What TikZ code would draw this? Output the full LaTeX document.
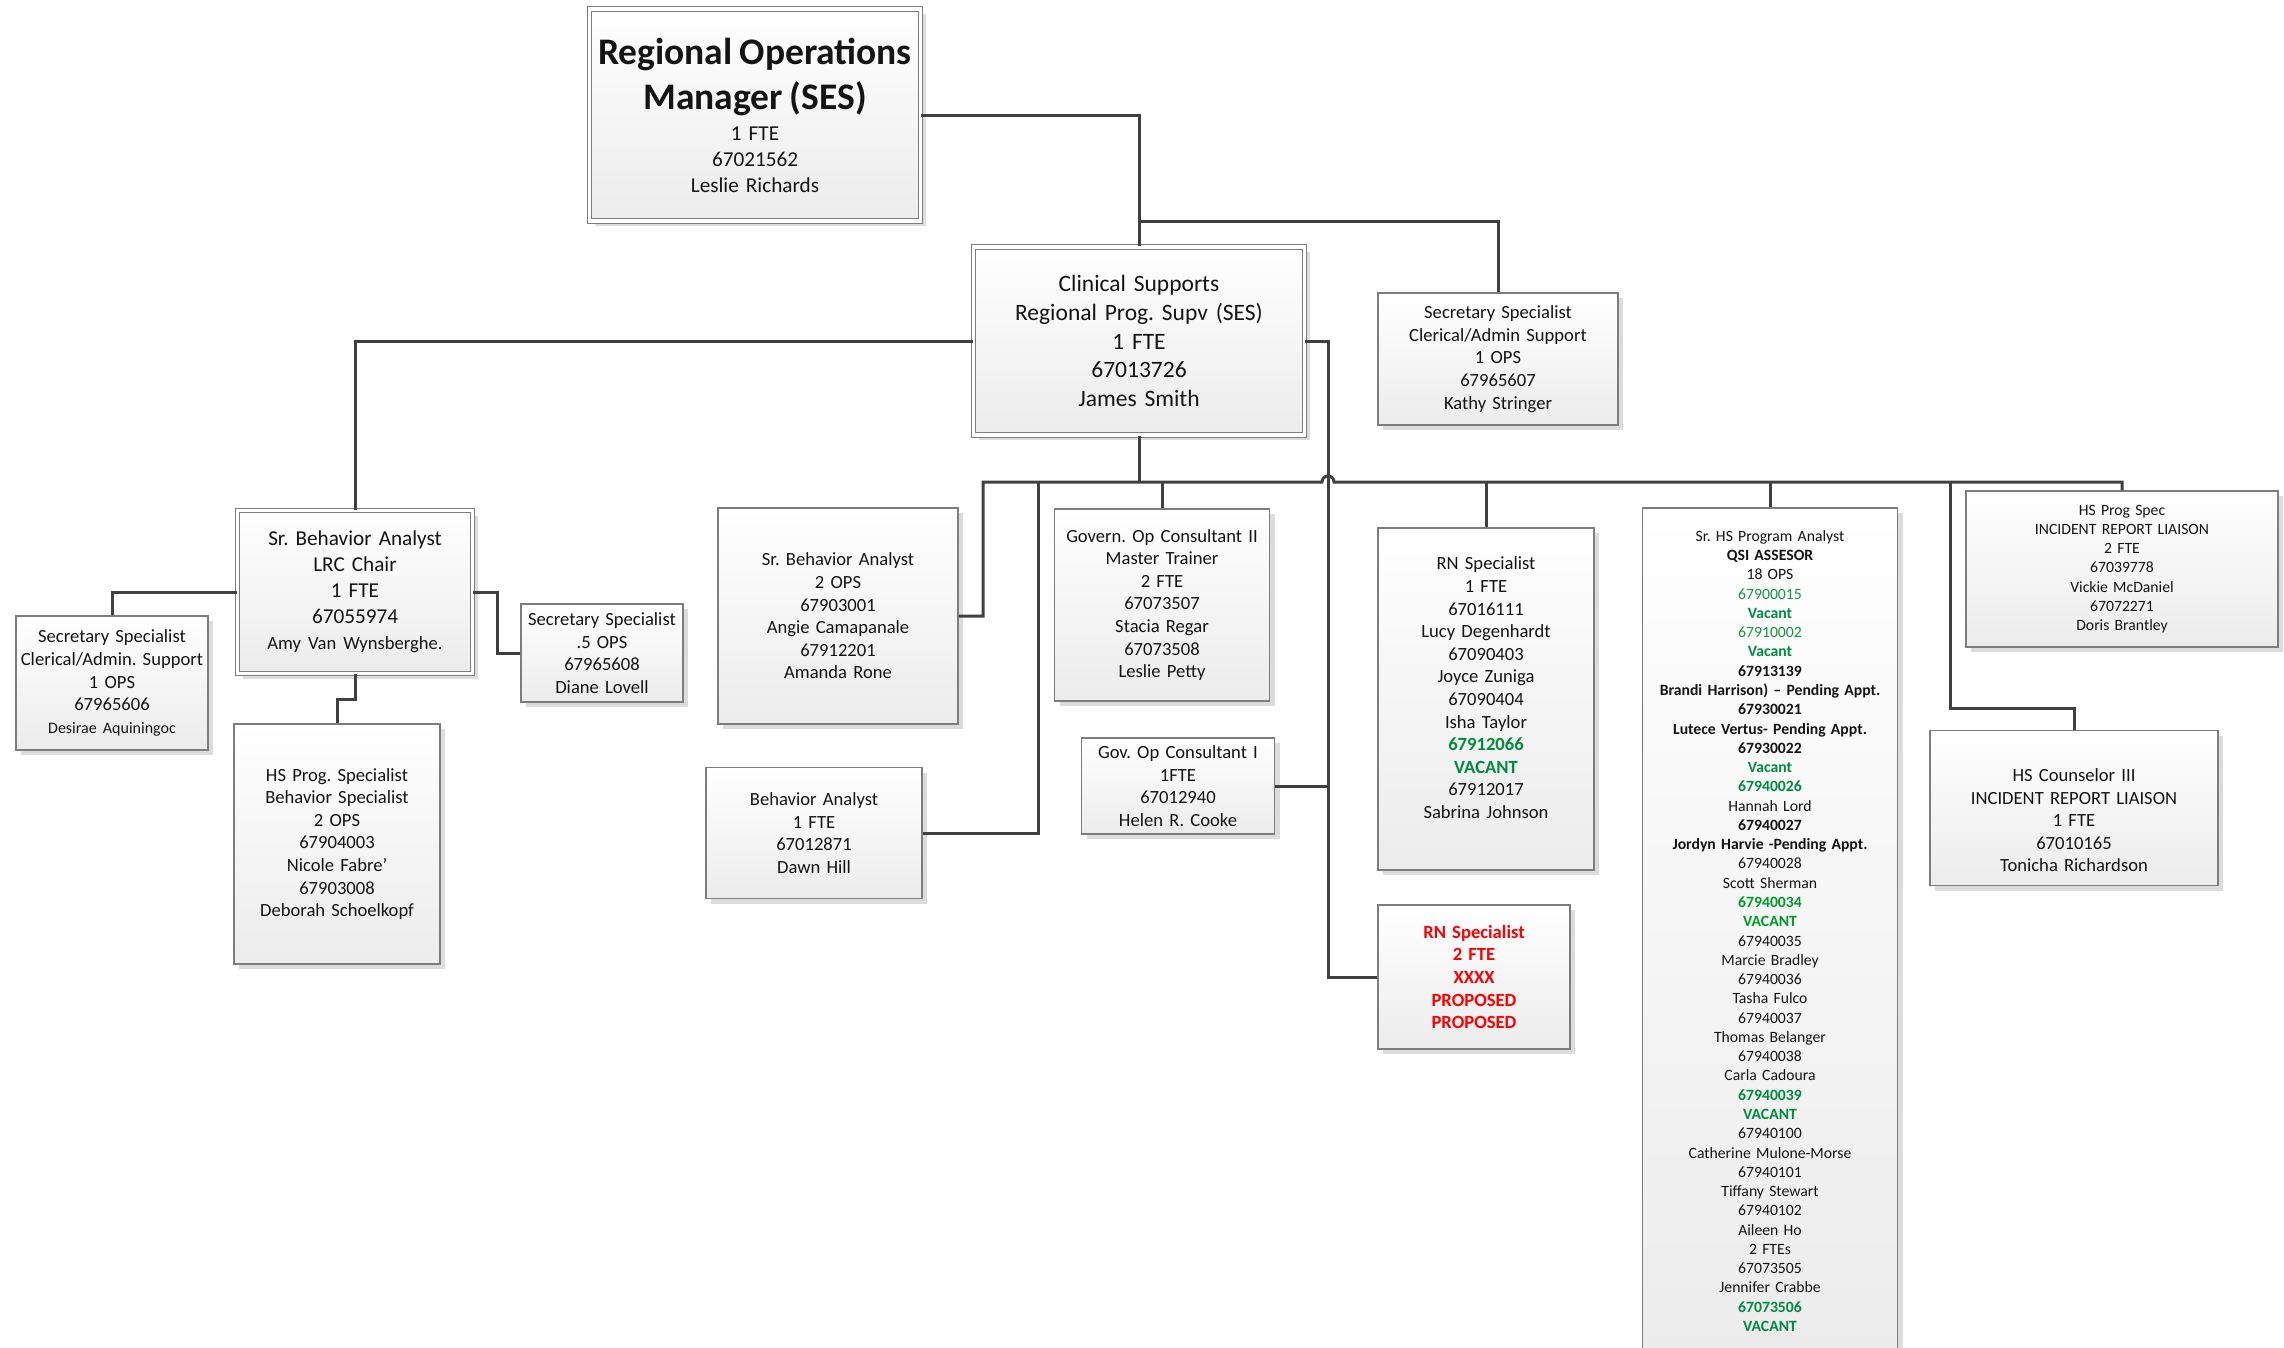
\documentclass[tikz,border=0pt]{standalone}
\usepackage{fontspec}
\setmainfont{Carlito}
\usetikzlibrary{shadows}
\frenchspacing

\definecolor{cBoxLine}{RGB}{125,125,125}
\definecolor{cBoxBot}{RGB}{236,236,236}
\definecolor{cShadow}{RGB}{220,220,220}
\definecolor{cConn}{RGB}{64,64,64}
\definecolor{cVac}{RGB}{0,140,62}
\definecolor{cVacB}{RGB}{0,155,40}
\definecolor{cVacL}{RGB}{20,150,60}
\definecolor{cRed}{RGB}{255,0,0}
\definecolor{cInk}{RGB}{20,20,20}

% type sizes (1pt = 1px of the sheet)
\newcommand\fN{\normalfont\fontsize{18.6}{22.6}\selectfont}
\newcommand\fS{\normalfont\fontsize{15.7}{19.27}\selectfont}
\newcommand\fM{\normalfont\fontsize{21.2}{26}\selectfont}
\newcommand\fC{\normalfont\fontsize{23.5}{28.7}\selectfont}
\newcommand\fT{\normalfont\fontsize{37.5}{45}\selectfont\bfseries}
\newcommand\vac[1]{\textcolor{cVac}{\bfseries #1}}
\newcommand\vacb[1]{\textcolor{cVacB}{\bfseries #1}}

\begin{document}
\begin{tikzpicture}[x=1pt,y=-1pt,
  box/.style={draw=cBoxLine, line width=1.4pt, top color=white, bottom color=cBoxBot,
    drop shadow={shadow xshift=5pt, shadow yshift=-5pt, fill=cShadow, opacity=1},
    inner sep=0pt, align=center, text=cInk},
  dbox/.style={box, double=white, double distance=3.5pt, line width=1.2pt},
  conn/.style={draw=cConn, line width=3pt}]

\useasboundingbox (0,0) rectangle (2284,1347);
\clip (0,0) rectangle (2284,1347);

% ---------- management ----------
\node[dbox, font=\fM, minimum width=331pt, minimum height=212pt, text width=324pt] (rom) at (755,115)
  {\fT Regional Operations\\Manager (SES)\par\vspace{5pt}\fM 1 FTE\\67021562\\Leslie Richards};

\node[dbox, font=\fC, minimum width=331pt, minimum height=188pt, text width=322pt] (cs) at (1139,341)
  {Clinical Supports\\Regional Prog. Supv (SES)\\1 FTE\\67013726\\James Smith};

\node[box, font=\fN, minimum width=240pt, minimum height=132pt, text width=232pt] (kathy) at (1498,359)
  {Secretary Specialist\\Clerical/Admin Support\\1 OPS\\67965607\\Kathy Stringer};

% ---------- LRC chair branch ----------
\node[dbox, font=\fM, minimum width=235pt, minimum height=163pt, text width=226pt] (srba) at (355,592)
  {Sr. Behavior Analyst\\LRC Chair\\1 FTE\\67055974\\\fontsize{18.6}{26}\selectfont Amy Van Wynsberghe.};

\node[box, font=\fN, minimum width=192pt, minimum height=134pt, text width=190pt] (des) at (112,683)
  {Secretary Specialist\\Clerical/Admin. Support\\1 OPS\\67965606\\\fontsize{16}{22.6}\selectfont Desirae Aquiningoc};

\node[box, font=\fN, minimum width=162pt, minimum height=98pt, text width=156pt] (dia) at (602,653)
  {Secretary Specialist\\.5 OPS\\67965608\\Diane Lovell};

\node[box, font=\fN, minimum width=206pt, minimum height=240pt, text width=198pt] (hsp) at (337,844)
  {HS Prog. Specialist\\Behavior Specialist\\2 OPS\\67904003\\Nicole Fabre’\\67903008\\Deborah Schoelkopf};

% ---------- staff under the supervisor ----------
\node[box, font=\fN, minimum width=240pt, minimum height=216pt, text width=232pt] (srba2) at (838,616)
  {Sr. Behavior Analyst\\2 OPS\\67903001\\Angie Camapanale\\67912201\\Amanda Rone};

\node[box, font=\fN, minimum width=216pt, minimum height=131pt, text width=208pt] (ba) at (814,833)
  {Behavior Analyst\\1 FTE\\67012871\\Dawn Hill};

\node[box, font=\fN, minimum width=215pt, minimum height=192pt, text width=209pt] (gov2) at (1162,605)
  {Govern. Op Consultant II\\Master Trainer\\2 FTE\\67073507\\Stacia Regar\\67073508\\Leslie Petty};

\node[box, font=\fN, minimum width=193pt, minimum height=96pt, text width=187pt] (gov1) at (1178,786)
  {Gov. Op Consultant I\\1FTE\\67012940\\Helen R. Cooke};

\node[box, font=\fN, minimum width=216pt, minimum height=342pt, text width=208pt] (rn) at (1486,699)
  {RN Specialist\\1 FTE\\67016111\\Lucy Degenhardt\\67090403\\Joyce Zuniga\\67090404\\Isha Taylor\\\vac{67912066}\\\vac{VACANT}\\67912017\\Sabrina Johnson\\\mbox{}};

\node[box, font=\fN\bfseries, text=cRed, minimum width=192pt, minimum height=144pt, text width=184pt] (rnp) at (1474,977)
  {RN Specialist\\2 FTE\\XXXX\\PROPOSED\\PROPOSED};

\node[box, font=\fS, minimum width=255pt, minimum height=846pt, text width=249pt] (srhs) at (1770,931)
  {Sr. HS Program Analyst\\\textbf{QSI ASSESOR}\\18 OPS\\\textcolor{cVacL}{67900015}\\\vac{Vacant}\\\textcolor{cVacL}{67910002}\\\vac{Vacant}\\\textbf{67913139}\\\textbf{Brandi Harrison) – Pending Appt.}\\\textbf{67930021}\\\textbf{Lutece Vertus- Pending Appt.}\\\textbf{67930022}\\\vac{Vacant}\\\vac{67940026}\\Hannah Lord\\\textbf{67940027}\\\textbf{Jordyn Harvie -Pending Appt.}\\67940028\\Scott Sherman\\\vacb{67940034}\\\vacb{VACANT}\\67940035\\Marcie Bradley\\67940036\\Tasha Fulco\\67940037\\Thomas Belanger\\67940038\\Carla Cadoura\\\vac{67940039}\\\vac{VACANT}\\67940100\\Catherine Mulone-Morse\\67940101\\Tiffany Stewart\\67940102\\Aileen Ho\\2 FTEs\\67073505\\Jennifer Crabbe\\\vac{67073506}\\\vac{VACANT}};

\node[box, font=\fS, minimum width=312pt, minimum height=156pt, text width=304pt] (hsps) at (2122,569)
  {HS Prog Spec\\INCIDENT REPORT LIAISON\\2 FTE\\67039778\\Vickie McDaniel\\67072271\\Doris Brantley};

\node[box, font=\fN, minimum width=288pt, minimum height=155pt, text width=280pt] (hsc3) at (2074,808)
  {\mbox{}\\[15pt]HS Counselor III\\INCIDENT REPORT LIAISON\\1 FTE\\67010165\\Tonicha Richardson};

% ---------- connectors ----------
\coordinate (bL)   at (983,482);
\coordinate (bA)   at (1038,482);
\coordinate (hopc) at (1328,482);
\coordinate (bH)   at (1950,482);
\coordinate (hk)   at (1950,708);

\draw[conn] (rom.east) -| (cs.north);
\draw[conn] (cs.north |- rom.south) -| (kathy.north);
\draw[conn] (cs.west) -| (srba.north);
\draw[conn] (cs.south) -- (cs.south |- hopc);

% main bus, hopping over the supervisor's side line
\draw[conn] (srba2.east) -| (bL) -- ([xshift=-6pt]hopc)
  arc[start angle=180, end angle=0, radius=6pt] -- (hsps.north |- hopc) -- (hsps.north);
\draw[conn] (ba.east) -| (bA);
\draw[conn] (gov2.north) -- (gov2.north |- hopc);
\draw[conn] (rn.north) -- (rn.north |- hopc);
\draw[conn] (srhs.north) -- (srhs.north |- hopc);
\draw[conn] (bH) -- (hk) -| (hsc3.north);

% side line from the supervisor
\draw[conn] (cs.east) -- (cs.east -| hopc) |- (rnp.west);
\draw[conn] (gov1.east) -- (gov1.east -| hopc);

% LRC chair reports
\draw[conn] (srba.west) -| (des.north);
\draw[conn] (srba.east) -- ++(24,0) |- (dia.west);
\draw[conn] (srba.south) -- ++(0,25) -| (hsp.north);
\end{tikzpicture}
\end{document}
